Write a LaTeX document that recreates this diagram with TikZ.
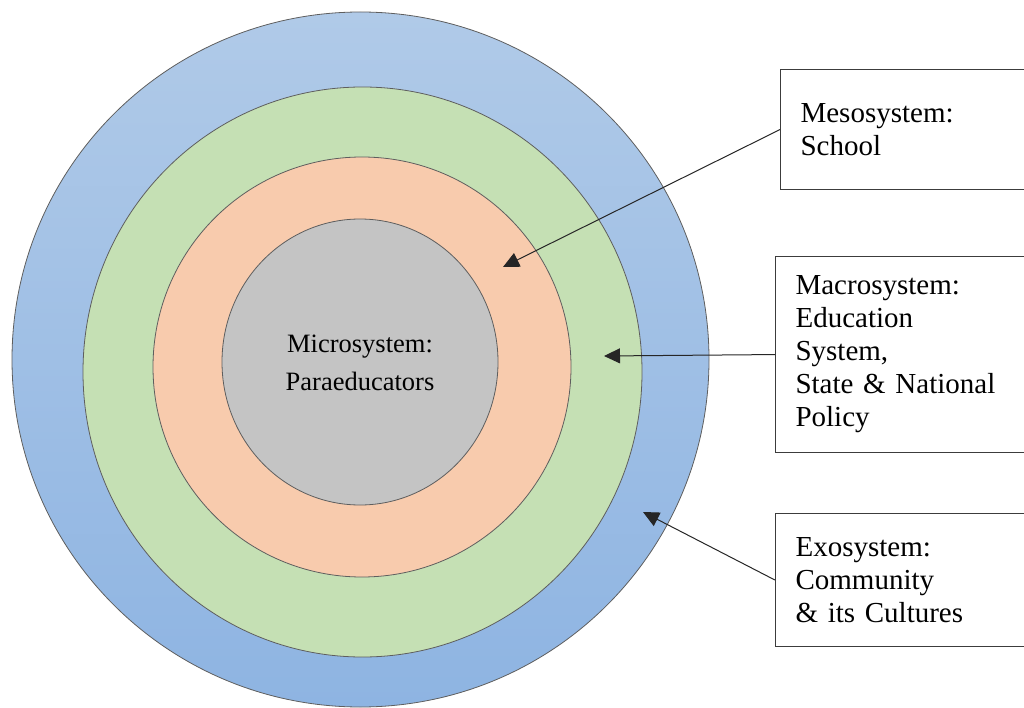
\documentclass[tikz,border=0pt]{standalone}
\usepackage{fontspec}
\setmainfont{Liberation Serif}
\usetikzlibrary{arrows.meta}
\definecolor{exotop}{HTML}{B0CAE8}
\definecolor{exobot}{HTML}{8EB4E2}
\definecolor{macrofill}{HTML}{C5E0B4}
\definecolor{mesofill}{HTML}{F8CBAD}
\definecolor{microfill}{HTML}{C4C4C4}
\definecolor{ringline}{HTML}{5E5E5E}
\definecolor{boxline}{HTML}{3C3C3C}
\begin{document}
\begin{tikzpicture}[x=1pt,y=-1pt,
  ring/.style={draw=ringline,line width=0.8pt},
  labelbox/.style={draw=boxline,line width=1.1pt,fill=white,rectangle,
    anchor=north west,inner xsep=20pt,inner ysep=0pt,align=left,
    text width=240pt,minimum width=280pt,
    font=\fontsize{29}{33}\selectfont},
  pointer/.style={draw=black!85,line width=1pt,
    -{Triangle[length=16pt,width=15pt]}}]
  \useasboundingbox (0,0) rectangle (1024,708);
  \clip (0,0) rectangle (1024,708);
  % nested system rings
  \path[ring,top color=exotop,bottom color=exobot]
    (360.5,359.5) ellipse [x radius=348.5pt,y radius=347.5pt];
  \path[ring,fill=macrofill] (362.5,372) ellipse [x radius=279.5pt,y radius=285pt];
  \path[ring,fill=mesofill] (362,367) ellipse [x radius=209pt,y radius=210pt];
  \path[ring,fill=microfill] (360,362) ellipse [x radius=138pt,y radius=143pt];
  \node[align=center,font=\fontsize{26.5}{38}\selectfont] (micro) at (360,363)
    {Microsystem:\\Paraeducators};
  % label boxes
  \node[labelbox,minimum height=120pt] (meso) at (780,69)
    {Mesosystem:\\School};
  \node[labelbox,minimum height=196pt] (macro) at (775,256)
    {Macrosystem:\\Education\\System,\\State \& National\\Policy};
  \node[labelbox,minimum height=133pt] (exo) at (775,513)
    {Exosystem:\\Community\\\& its Cultures};
  % arrow targets inside the rings
  \coordinate (mesotip) at (503,267);
  \coordinate (macrotip) at (604,356);
  \coordinate (exotip) at (643,512);
  \draw[pointer] (meso.west) -- (mesotip);
  \draw[pointer] (macro.west) -- (macrotip);
  \draw[pointer] (exo.west) -- (exotip);
\end{tikzpicture}
\end{document}
